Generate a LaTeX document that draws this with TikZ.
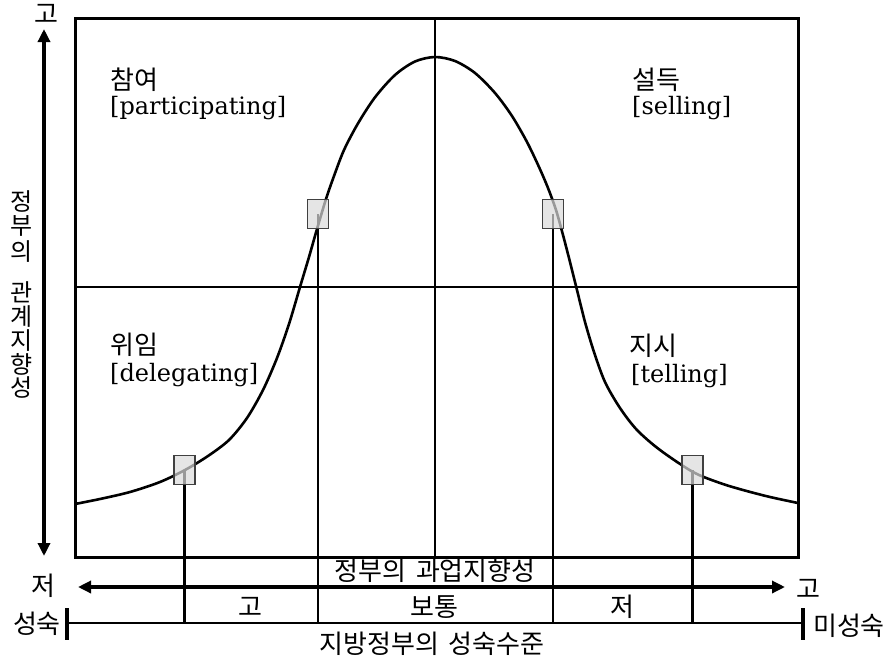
\documentclass[tikz,border=0pt]{standalone}
\usepackage{fontspec}
\setmainfont{Noto Sans CJK KR}
\newfontfamily\latf{DejaVu Serif}
\usetikzlibrary{arrows.meta}
\begin{document}
\begin{tikzpicture}[x=1pt,y=-1pt,
  kr/.style={inner sep=0pt, font=\fontsize{26}{28}\selectfont},
  krv/.style={inner sep=0pt, font=\fontsize{24}{26}\selectfont},
  krl/.style={inner sep=0pt, anchor=west, font=\fontsize{26}{28}\selectfont},
  en/.style={inner sep=0pt, anchor=west, font=\latf\fontsize{24}{26}\selectfont},
  mk/.style={draw=black!75, line width=1.3pt, fill=gray!28, fill opacity=0.7, minimum width=21pt, minimum height=29pt, inner sep=0pt},
  frame/.style={line width=3pt},
  grid/.style={line width=2.2pt},
  drop/.style={line width=2.4pt},
  dbl/.style={line width=3.6pt, {Triangle[length=13pt,width=12pt]}-{Triangle[length=13pt,width=12pt]}},
  tick/.style={line width=3.4pt},
]
\useasboundingbox[fill=white] (0,0) rectangle (892,659);

% frame and quadrant lines
\draw[frame] (75,18) rectangle (798,557);
\coordinate (ctop) at (435,18);
\coordinate (cbot) at (435,557);
\coordinate (mleft) at (75,287);
\coordinate (mright) at (798,287);
\draw[grid] (ctop) -- (cbot);
\draw[grid] (mleft) -- (mright);

% bell curve
\draw[line width=2.6pt, line join=round] plot[smooth, tension=0.5] coordinates {
 (75,504) (100,499) (130,492) (160,482) (185,470) (208,456) (229,440)
 (247,418) (263,390) (277,358) (289,324) (300,287) (309,257) (317,229)
 (326,199) (334,176) (344,150) (358,123.4) (375,97.3) (395,75) (415,61.5)
 (435,57)
 (455,61) (475,73) (495,93) (512,116) (527,142) (539,167) (548,188)
 (556,210) (563,235) (570,262) (577,290) (585,322) (594,352) (605,382)
 (620,408) (637,430) (660,450) (693,472) (720,483) (743,490) (770,497)
 (798,503)};

% bottom scale line
\coordinate (sl) at (67,623);
\coordinate (sr) at (803,623);
\draw[line width=2.4pt] (sl) -- (sr);
\draw[tick] (67,608) -- (67,640);
\draw[tick] (803,608) -- (803,640);

% markers and drop lines
\coordinate (d1) at (184.5,623);
\coordinate (d2) at (318,623);
\coordinate (d3) at (553,623);
\coordinate (d4) at (692.5,623);
\coordinate (p1) at (184.5,470);
\coordinate (p2) at (318,214);
\coordinate (p3) at (553,214);
\coordinate (p4) at (692.5,470);
\draw[drop] (p1) -- (d1);
\draw[drop] (p2) -- (d2);
\draw[drop] (p3) -- (d3);
\draw[drop] (p4) -- (d4);
\node[mk] (m1) at (p1) {};
\node[mk] (m2) at (p2) {};
\node[mk] (m3) at (p3) {};
\node[mk] (m4) at (p4) {};

% axes arrows
\coordinate (vt) at (44,29);
\coordinate (vb) at (44,556);
\draw[dbl] (vb) -- (vt);
\coordinate (hl) at (78,587);
\coordinate (hr) at (785,587);
\draw[dbl] (hl) -- (hr);

% axis texts
\node[kr] (ytop) at (46,14) {고};
\node[krv] (v1) at (22,201) {정};
\node[krv] (v2) at (22,226) {부};
\node[krv] (v3) at (22,252) {의};
\node[krv] (v4) at (22,292) {관};
\node[krv] (v5) at (22,317) {계};
\node[krv] (v6) at (22,341) {지};
\node[krv] (v7) at (22,364) {향};
\node[krv] (v8) at (22,387) {성};

\node[kr] (xlo) at (43,586) {저};
\node[kr] (xhi) at (808,589) {고};
\node[kr] (xlab) at (435,571) {정부의\hspace{10pt}과업지향성};
\node[kr] (mat) at (37,624) {성숙};
\node[kr] (imm) at (849,626) {미성숙};
\node[kr] (lvh) at (250,607) {고};
\node[kr] (lvm) at (434,607) {보통};
\node[kr] (lvl) at (622,607) {저};
\node[kr] (slab) at (432,644) {지방정부의\hspace{10pt}성숙수준};

% quadrant labels
\node[krl] (q1k) at (110,80) {참여};
\node[en] (q1e) at (110,108) {[participating]};
\node[krl] (q2k) at (632,80) {설득};
\node[en] (q2e) at (632,108) {[selling]};
\node[krl] (q3k) at (110,345) {위임};
\node[en] (q3e) at (110,375) {[delegating]};
\node[krl] (q4k) at (629,346) {지시};
\node[en] (q4e) at (631,376) {[telling]};
\end{tikzpicture}
\end{document}
